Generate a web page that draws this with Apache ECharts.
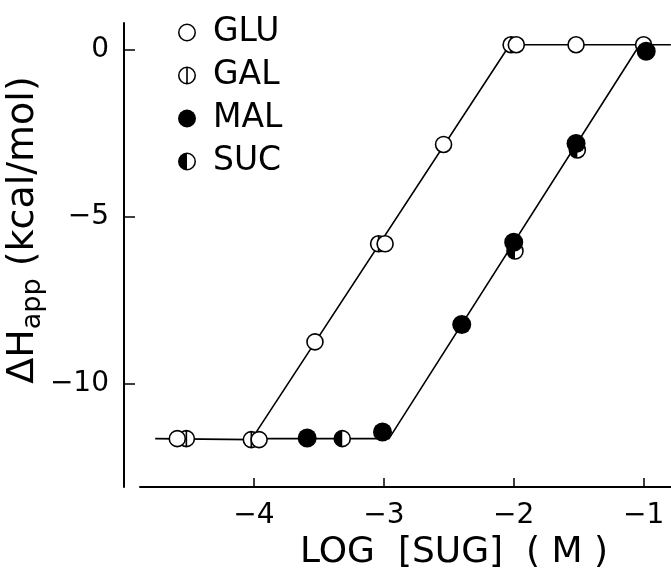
<!DOCTYPE html>
<html>
<head>
<meta charset="utf-8">
<script src="https://cdn.jsdelivr.net/npm/echarts@6/dist/echarts.min.js"></script>
<style>
  html, body { margin: 0; padding: 0; background: #fff; }
  #chart { width: 671px; height: 576px; }
</style>
</head>
<body>
<div id="chart"></div>
<script>
// log[sugar] (M) vs apparent enthalpy (kcal/mol)
const glu = [[-4.59, -11.82], [-3.96, -11.85], [-3.53, -8.88], [-2.99, -5.9], [-2.54, -2.88], [-1.98, 0.15], [-1.52, 0.15], [-1.0, 0.15]]
const gal = [[-4.52, -11.82], [-4.02, -11.85], [-3.04, -5.9], [-2.02, 0.15]]
const mal = [[-3.59, -11.8], [-3.01, -11.62], [-2.4, -8.35], [-2.0, -5.85], [-1.52, -2.85], [-0.98, -0.05]]
const suc = [[-3.32, -11.82], [-1.99, -6.12], [-1.51, -3.05]]
// hand drawn fit lines
const fitLeft = [[-4.76, -11.82], [-4.02, -11.85], [-2.03, 0.15], [-0.79, 0.15]]
const fitRight = [[-4.02, -11.82], [-2.96, -11.82], [-1.03, 0.15]]
const xTicks = [-4, -3, -2, -1]
const yTicks = [-10, -5, 0]

const FONT = 'DejaVu Sans'
const ring = 'M-10,0A10,10 0 1,1 10,0A10,10 0 1,1 -10,0ZM-8.3,0A8.3,8.3 0 1,0 8.3,0A8.3,8.3 0 1,0 -8.3,0Z'
const iconGal = 'path://' + ring + 'M-0.9,-9L0.9,-9L0.9,9L-0.9,9Z'
const iconSuc = 'path://' + ring + 'M0,8.3A8.3,8.3 0 0,1 0,-8.3Z'
const symGal = 'path://M-10,0A10,10 0 1,1 10,0A10,10 0 1,1 -10,0ZM0,-10L0,10'
const halfLeft = 'path://M0,-10A10,10 0 0,0 0,10Z'

const minus = v => (v < 0 ? '\u2212' + Math.abs(v) : String(v))
const openStyle = { color: '#fff', borderColor: '#000', borderWidth: 1.6, opacity: 1 }

const chart = echarts.init(document.getElementById('chart'))
chart.setOption({
  animation: false,
  backgroundColor: '#fff',
  textStyle: { fontFamily: FONT, color: '#000' },
  grid: [
    { left: 140, right: 0, top: 23, bottom: 83 },
    { left: 124, width: 10, top: 23, bottom: 89 }
  ],
  legend: {
    orient: 'vertical',
    left: 173,
    top: 10,
    itemWidth: 18,
    itemHeight: 18,
    itemGap: 8,
    textStyle: { fontFamily: FONT, fontSize: 33, color: '#000', lineHeight: 35, padding: [0, 0, 0, 12] },
    data: [
      { name: 'GLU', icon: 'path://' + ring, itemStyle: { color: '#000', borderWidth: 0 } },
      { name: 'GAL', icon: iconGal, itemStyle: { color: '#000', borderWidth: 0 } },
      { name: 'MAL', icon: 'circle', itemStyle: { color: '#000', borderWidth: 0 } },
      { name: 'SUC', icon: iconSuc, itemStyle: { color: '#000', borderWidth: 0 } }
    ]
  },
  xAxis: [
    {
      gridIndex: 0,
      type: 'value',
      min: -4.877,
      max: -0.789,
      splitLine: { show: false },
      axisLine: { onZero: false, lineStyle: { color: '#000', width: 2 } },
      axisTick: { inside: true, length: 9, customValues: xTicks, lineStyle: { color: '#000', width: 1.5 } },
      axisLabel: { customValues: xTicks, formatter: minus, fontSize: 28, color: '#000', margin: 15, fontFamily: FONT },
      name: 'LOG  [SUG]  ( M )',
      nameLocation: 'middle',
      nameGap: 48,
      nameTextStyle: { fontSize: 36, color: '#000', fontFamily: FONT, padding: [0, 0, 0, 97] }
    },
    { gridIndex: 1, type: 'value', show: false, min: 0, max: 1 }
  ],
  yAxis: [
    { gridIndex: 0, type: 'value', show: false, min: -13.29, max: 0.81 },
    {
      gridIndex: 1,
      type: 'value',
      min: -13.11,
      max: 0.81,
      splitLine: { show: false },
      axisLine: { show: true, onZero: false, lineStyle: { color: '#000', width: 2 } },
      axisTick: { inside: true, length: 11, customValues: yTicks, lineStyle: { color: '#000', width: 1.5 } },
      axisLabel: { customValues: yTicks, formatter: minus, fontSize: 28, color: '#000', margin: 15, padding: [8, 0, 0, 0], fontFamily: FONT },
      name: '{a|\u0394H}{s|app}{a| (kcal/mol)}',
      nameLocation: 'middle',
      nameGap: 74,
      nameRotate: 90,
      nameTextStyle: {
        fontFamily: FONT,
        color: '#000',
        padding: [0, 0, 0, 50],
        rich: {
          a: { fontSize: 38, fontFamily: FONT, lineHeight: 46, verticalAlign: 'middle' },
          s: { fontSize: 27, fontFamily: FONT, lineHeight: 46, verticalAlign: 'bottom' }
        }
      }
    }
  ],
  series: [
    { type: 'line', data: fitLeft, symbol: 'none', lineStyle: { color: '#000', width: 1.6 }, silent: true, z: 1 },
    { type: 'line', data: fitRight, symbol: 'none', lineStyle: { color: '#000', width: 1.6 }, silent: true, z: 1 },
    { name: 'SUC', type: 'scatter', data: suc, symbol: 'circle', symbolSize: 16, itemStyle: openStyle, z: 3 },
    { name: 'SUC', type: 'scatter', data: suc, symbol: halfLeft, symbolSize: [8, 16], symbolOffset: [-4, 0], itemStyle: { color: '#000', opacity: 1 }, z: 3 },
    { name: 'MAL', type: 'scatter', data: mal, symbol: 'circle', symbolSize: 19, itemStyle: { color: '#000', opacity: 1 }, z: 4 },
    { name: 'GAL', type: 'scatter', data: gal, symbol: symGal, symbolSize: 16, itemStyle: openStyle, z: 3 },
    { name: 'GLU', type: 'scatter', data: glu, symbol: 'circle', symbolSize: 16, itemStyle: openStyle, z: 3 }
  ]
})
</script>
</body>
</html>
